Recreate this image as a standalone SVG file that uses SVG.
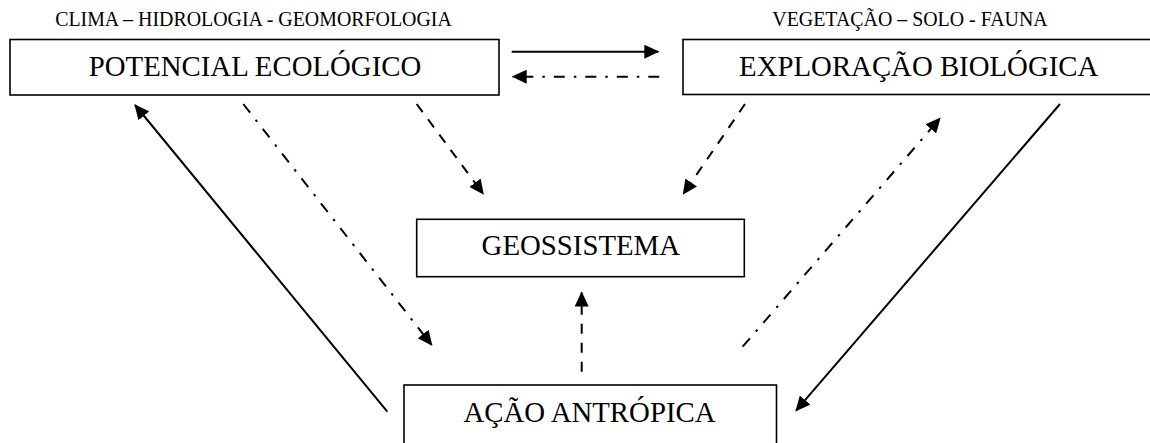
<svg xmlns="http://www.w3.org/2000/svg" width="1150" height="443" viewBox="0 0 1150 443">
<defs>
<style>
.box{fill:#fff;stroke:#000;stroke-width:1.6}
.lbl{font-family:"Liberation Serif","Times New Roman",serif;font-size:28.8px;fill:#000;text-anchor:middle}
.hdr{font-family:"Liberation Serif","Times New Roman",serif;font-size:19.9px;fill:#000;text-anchor:middle}
.c{fill:none;stroke:#000;stroke-width:2;marker-end:url(#ah)}
.dash{stroke-dasharray:10 9}
.dd{stroke-dasharray:11 9 2.5 9}
</style>
<marker id="ah" markerUnits="userSpaceOnUse" viewBox="0 0 15 14" refX="14" refY="7" markerWidth="15" markerHeight="14" orient="auto">
<path d="M0,0 L15,7 L0,14 z" fill="#000"/>
</marker>
</defs>
<rect width="1150" height="443" fill="#fff"/>
<g id="potencial">
<text class="hdr" x="253.5" y="26">CLIMA – HIDROLOGIA - GEOMORFOLOGIA</text>
<rect class="box" x="10" y="39.5" width="489" height="55.5"/>
<text class="lbl" x="255" y="76">POTENCIAL ECOLÓGICO</text>
</g>
<g id="exploracao">
<text class="hdr" x="910" y="26">VEGETAÇÃO – SOLO - FAUNA</text>
<rect class="box" x="683" y="39.5" width="475" height="55"/>
<text class="lbl" x="918.7" y="75.5">EXPLORAÇÃO BIOLÓGICA</text>
</g>
<g id="geossistema">
<rect class="box" x="416.7" y="219.3" width="327.6" height="57.4"/>
<text class="lbl" x="580.8" y="255">GEOSSISTEMA</text>
</g>
<g id="acao">
<rect class="box" x="404" y="385" width="372.5" height="70"/>
<text class="lbl" x="589.5" y="421.7">AÇÃO ANTRÓPICA</text>
</g>
<g id="connectors">
<line class="c" x1="511.7" y1="51.7" x2="658.3" y2="51.7"/>
<line class="c dd" x1="659.3" y1="76.7" x2="512.7" y2="76.7"/>
<line class="c" x1="387.3" y1="411.7" x2="135" y2="105"/>
<line class="c dd" x1="243.3" y1="104" x2="431.7" y2="345"/>
<line class="c dash" x1="416.7" y1="104" x2="483.3" y2="194"/>
<line class="c dash" x1="745" y1="104" x2="683.3" y2="194"/>
<line class="c dd" x1="742.7" y1="346.7" x2="940" y2="118.3"/>
<line class="c" x1="1060" y1="104" x2="796" y2="410.7"/>
<line class="c dash" x1="581.7" y1="371.7" x2="581.7" y2="292.5"/>
</g>
</svg>
